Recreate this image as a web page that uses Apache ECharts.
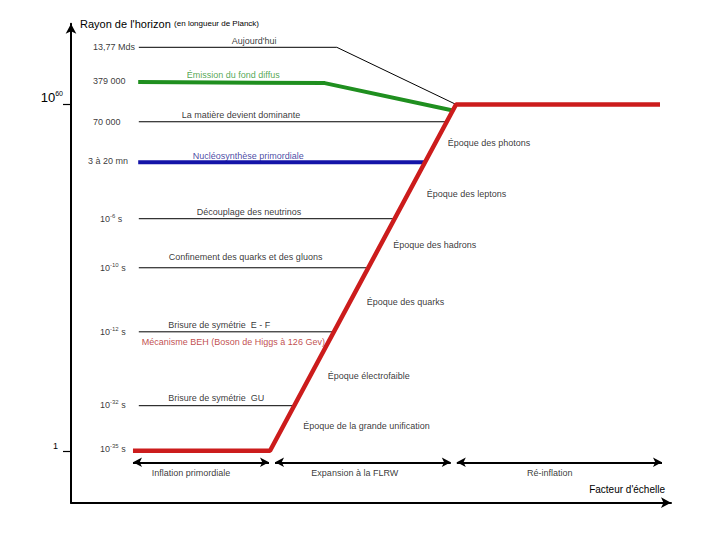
<!DOCTYPE html>
<html>
<head>
<meta charset="utf-8">
<script src="https://cdn.jsdelivr.net/npm/echarts@6/dist/echarts.min.js"></script>
<style>html,body{margin:0;padding:0;background:#fff;}#c{width:720px;height:540px;}</style>
</head>
<body>
<div id="c"></div>
<script>
// x: scale factor (arbitrary log units), y: log10 of horizon radius in Planck lengths
const yTickValues = [0, 60];
const yTickLabels = ['1', '10^60'];

// main curve of the horizon radius
const horizonCurve = [[10.33, 0], [33.17, 0], [64.17, 60], [98.17, 60]];
// "today" curve
const todayCurve = [[11.3, 69.9], [44.3, 69.9], [64.17, 60]];
// CMB emission curve
const cmbCurve = [[11.2, 63.9], [42.3, 63.7], [63.45, 59.0]];
// nucleosynthesis level
const nucleoLine = [[11.2, 50.0], [59.0, 50.0]];

// other event levels (thin black lines)
const eventLevels = [57.0, 40.2, 31.7, 20.6, 7.8];
const eventLineStart = 11.3;
const eventLineEnd = [62.6, 53.8, 49.4, 43.6, 37.1];

// time stamps at left
const timeTexts = ['13,77 Mds', '379 000', '70 000', '3 à 20 mn', '10^-6 s', '10^-10 s', '10^-12 s', '10^-32 s', '10^-35 s'];
const timeX = [3.67, 3.67, 3.67, 2.83, 4.83, 4.83, 4.83, 4.83, 4.83];
const timeY = [69.9, 64.1, 57.0, 50.2, 40.2, 31.7, 20.6, 8.0, 0.35];

// event notes (black)
const noteTexts = ["Aujourd'hui", 'La matière devient dominante', 'Découplage des neutrinos', 'Confinement des quarks et des gluons', 'Brisure de symétrie  E - F', 'Brisure de symétrie  GU'];
const noteX = [26.8, 18.45, 20.95, 16.3, 16.2, 16.2];
const noteY = [71.0, 58.2, 41.4, 33.5, 21.7, 9.1];

// coloured notes
const cmbNote = ['Émission du fond diffus', 19.3, 65.1];
const nucleoNote = ['Nucléosynthèse primordiale', 20.3, 51.1];
const higgsNote = ['Mécanisme BEH (Boson de Higgs à 126 Gev)', 11.8, 18.8];

// epochs
const epochTexts = ['Époque des photons', 'Époque des leptons', 'Époque des hadrons', 'Époque des quarks', 'Époque électrofaible', 'Époque de la grande unification'];
const epochX = [62.8, 59.3, 53.7, 49.3, 42.8, 38.7];
const epochY = [53.4, 44.45, 35.7, 25.7, 12.9, 4.3];

// periods (double arrows)
const periodTexts = ['Inflation primordiale', 'Expansion à la FLRW', 'Ré-inflation'];
const periodStart = [10.33, 34.0, 64.3];
const periodEnd = [33.0, 63.3, 98.5];
const periodCenter = [20.0, 47.3, 79.8];
const periodArrowY = -2.0;
const periodTextY = -3.8;

const FONT = 'Liberation Sans, Arial, sans-serif';
function sup(s) { return s.replace(/\^(\S+)/, '{sup|$1}'); }
const richSup = { sup: { fontSize: 6, fontFamily: FONT, color: '#000', padding: [0, 0, 5, 0] } };

function textSeries(texts, xs, ys, opts) {
  return {
    type: 'scatter', symbolSize: 0, silent: true, z: 5,
    data: texts.map((t, i) => ({ value: [xs[i], ys[i]], name: t })),
    label: Object.assign({
      show: true, position: 'inside', align: 'left', verticalAlign: 'middle',
      fontFamily: FONT, fontSize: 9, color: '#000',
      formatter: p => sup(p.name), rich: richSup
    }, opts || {})
  };
}

const series = [];
const thin = { color: '#000', width: 1 };
series.push({ type: 'line', data: todayCurve, symbol: 'none', lineStyle: thin, silent: true });
eventLevels.forEach((y, i) => {
  series.push({ type: 'line', data: [[eventLineStart, y], [eventLineEnd[i], y]], symbol: 'none', lineStyle: thin, silent: true });
});
series.push({ type: 'line', data: cmbCurve, symbol: 'none', lineStyle: { color: '#1f8f1f', width: 4 }, silent: true });
series.push({ type: 'line', data: nucleoLine, symbol: 'none', lineStyle: { color: '#1414a8', width: 4 }, silent: true });
series.push({
  type: 'line', data: horizonCurve, symbol: 'none', lineStyle: { color: '#cc1c1c', width: 4.5 }, silent: true, z: 3,
  markLine: {
    silent: true, symbol: ['arrow', 'arrow'], symbolSize: [7, 9],
    lineStyle: { color: '#000', width: 2, type: 'solid' },
    label: { show: false },
    data: periodTexts.map((t, i) => [{ coord: [periodStart[i], periodArrowY] }, { coord: [periodEnd[i], periodArrowY] }])
  }
});
// y-axis tick marks at the labelled values
series.push({
  type: 'custom', silent: true, clip: false, z: 10,
  data: yTickValues.map(v => [0, v]),
  renderItem: (params, api) => {
    const p = api.coord([api.value(0), api.value(1)]);
    const y = Math.round(p[1]) + 0.5;
    return { type: 'line', shape: { x1: p[0] - 8, y1: y, x2: p[0], y2: y }, style: { stroke: '#000', lineWidth: 1.2 } };
  }
});
series.push(textSeries(timeTexts, timeX, timeY));
series.push(textSeries(noteTexts, noteX, noteY));
series.push(textSeries([cmbNote[0]], [cmbNote[1]], [cmbNote[2]], { color: '#1f8f1f' }));
series.push(textSeries([nucleoNote[0]], [nucleoNote[1]], [nucleoNote[2]], { color: '#14148c' }));
series.push(textSeries([higgsNote[0]], [higgsNote[1]], [higgsNote[2]], { color: '#b02020' }));
series.push(textSeries(epochTexts, epochX, epochY));
series.push(textSeries(periodTexts, periodCenter, periodTexts.map(() => periodTextY), { align: 'center' }));

const chart = echarts.init(document.getElementById('c'), null, { renderer: 'svg' });
chart.setOption({
  animation: false,
  backgroundColor: '#fff',
  grid: { left: 71, right: 49, top: 23.65, bottom: 37.35 },
  xAxis: {
    type: 'value', min: 0, max: 100,
    name: "Facteur d'échelle", nameLocation: 'end', nameGap: -6,
    nameTextStyle: { fontFamily: FONT, fontSize: 10, color: '#000', align: 'right', verticalAlign: 'bottom', padding: [0, 0, 8, 0] },
    axisLine: { show: true, onZero: false, symbol: ['none', 'arrow'], symbolSize: [8, 10], lineStyle: { color: '#000', width: 2 } },
    axisTick: { show: false }, axisLabel: { show: false }, splitLine: { show: false }
  },
  yAxis: {
    type: 'value', min: -9, max: 74,
    name: "{a|Rayon de l'horizon} {b|(en longueur de Planck)}", nameLocation: 'end', nameGap: 0,
    nameTextStyle: { align: 'left', verticalAlign: 'middle', padding: [0, 0, 0, 9],
      rich: { a: { fontFamily: FONT, fontSize: 11, color: '#000' }, b: { fontFamily: FONT, fontSize: 8, color: '#000' } } },
    axisLine: { show: true, onZero: false, symbol: ['none', 'arrow'], symbolSize: [8, 10], lineStyle: { color: '#000', width: 2 } },
    axisTick: { show: false },
    axisLabel: {
      show: true, customValues: yTickValues, margin: 8, verticalAlign: 'bottom', color: '#000',
      formatter: v => {
        const t = yTickLabels[yTickValues.indexOf(v)];
        if (t === '1') return '{one|1}';
        const parts = t.split('^');
        return '{big|' + parts[0] + '}{exp|' + parts[1] + '}';
      },
      rich: {
        one: { fontFamily: FONT, fontSize: 9, color: '#000', padding: [0, 5, 0, 0] },
        big: { fontFamily: FONT, fontSize: 13, color: '#000' },
        exp: { fontFamily: FONT, fontSize: 7, color: '#000', padding: [0, 0, 7, 0] }
      }
    },
    splitLine: { show: false }
  },
  series: series
});
</script>
</body>
</html>
